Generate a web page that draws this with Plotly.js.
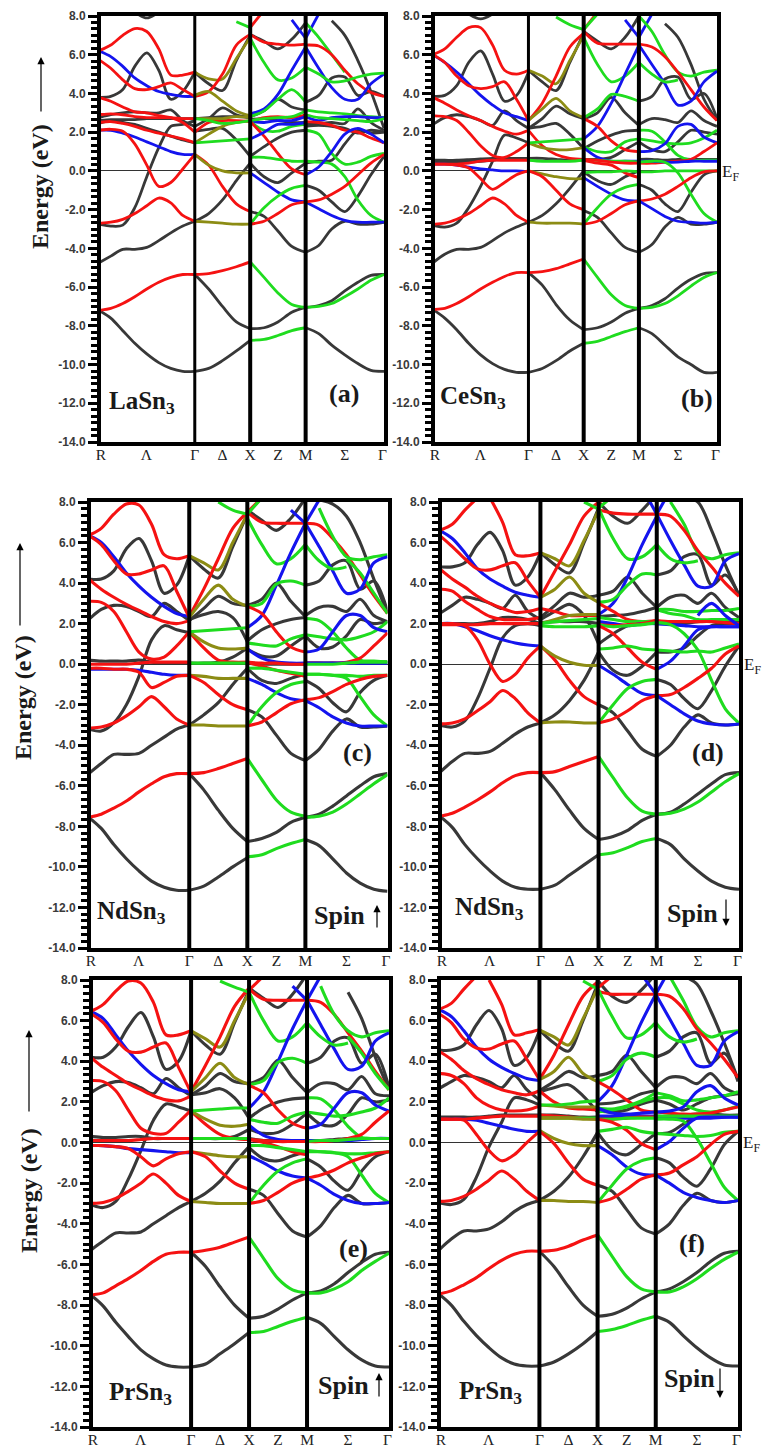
<!DOCTYPE html>
<html><head><meta charset="utf-8">
<script src="https://cdn.plot.ly/plotly-3.0.1.min.js"></script>
<style>html,body{margin:0;padding:0;background:#fff}</style></head>
<body><div id="chart" style="width:763px;height:1447px"></div>
<script>
const _=null;
const kStart=0.02;
const kNodes=[0,0.866,1.366,1.866,2.573];
const xTickVals=[0.02,0.43,0.866,1.116,1.366,1.616,1.866,2.22,2.56];
const xTickText=['R','Λ','Γ','Δ','X','Z','M','Σ','Γ'];
const yTickVals=[8,6,4,2,0,-2,-4,-6,-8,-10,-12,-14];
const yTickText=['8.0','6.0','4.0','2.0','0.0','-2.0','-4.0','-6.0','-8.0','-10.0','-12.0','-14.0'];

const aRG=[['k',_,_,_,8.2,7.9,8.2],['k',3.8,3.85,4.2,5.4,6.1,5.2,3.7,4.1,5.1],['k',2.75,2.9,3,3.05,3,3,3.15,2.6,2.3],['k',2.6,2.65,2.65,2.65,2.7,2.7,2.7,2.7,2.7],['k',2.45,2.6,2.5,2.4,2.2,2,1.8,1.6,1.45],['k',-2.75,-2.85,-2.8,-1.9,-.3,1.2,2.3,2.4,2.6],['k',-4.75,-4.4,-4.05,-4.05,-3.95,-3.6,-3.2,-2.85,-2.6],['k',-7.2,-7.6,-8.25,-8.9,-9.45,-9.9,-10.2,-10.35,-10.35],['b',6.2,5.9,5.4,4.8,4.4,4.1,3.95,3.85,3.85],['b',2.1,2.1,1.95,1.75,1.5,1.25,1,.85,.85],['r',6.2,6.5,7,7.35,7.2,6.3,4.95,4.95,5.1],['r',5.75,5.3,4.7,4.25,4.2,4.35,4.55,4.2,3.85],['r',3.8,3.6,3.3,3.05,3,2.85,2.75,2.5,2],['r',2.9,2.95,2.9,2.8,2.75,2.75,2.75,2.7,2.7],['r',2.5,2.55,2.45,2.3,2.1,1.95,1.8,1.65,1.45],['r',2.1,2.15,2.05,1.4,.3,-.8,-.6,.1,.85],['r',-2.7,-2.65,-2.5,-2.2,-1.8,-1.4,-1.65,-2.3,-2.6],['r',-7.2,-7.1,-6.85,-6.5,-6.1,-5.75,-5.5,-5.35,-5.35]];
const aGX=[['k',5.1,4.5,4.15,5.7,7],['k',2.3,2.7,3.25,2.9,2.75],['k',2.05,2.15,2.2,1.6,.75],['k',-2.6,-2.2,-1.5,-.5,.4],['k',-5.35,-6.1,-7,-7.8,-8.15],['k',-10.35,-10.2,-9.8,-9.3,-8.75],['k',2.7,2.75,2.8,2.8,2.75],['o',5.1,4.75,4.75,5.8,6.9],['r',3.85,4.1,5,6.5,7.05],['o',3.9,4.1,3.6,3.1,2.85],['r',-5.35,-5.3,-5.15,-4.95,-4.7],['o',-2.6,-2.65,-2.7,-2.75,-2.75],['r',.85,.3,-.8,-1.7,-2.1],['o',.85,.3,0,-.1,-.1],['o',1.45,1.9,2.3,2.5,2.6],['g',1.45,1.5,1.55,1.6,1.65],['r',2,2.5,2.6,2.6,2.55],['o',2.7,2.7,2.7,2.8,2.75],['g',2.7,2.6,2.45,2.5,2.6],['g',_,_,_,7.7,7.4]];
const aXM=[['k',7.05,6.7,6.3,6.8,7.65],['k',2.8,3.1,3.7,3.3,3.15],['k',2.65,2.7,2.6,2.5,2.5],['k',.75,1.25,1.7,2,2.1],['k',.4,-.3,-.6,-.1,.4],['k',-2.1,-2.35,-3.1,-3.9,-4.2],['k',-8.15,-8.1,-7.8,-7.3,-7.05],['r',7.05,6.65,6.55,6.5,6.55],['r',7.4,8.3],['g',6.85,5.6,4.7,4.8,5.35],['b',2.95,3.2,3.95,5.2,6.4],['b',_,_,_,7.8,6.85],['g',2.8,3.1,3.7,4.2,3.55],['r',2.55,2.75,2.8,2.75,2.9],['b',2.55,2.5,2.6,2.6,2.8],['g',2.6,2.7,2.75,2.8,3.1],['g',2.55,2.1,2.05,2.3,2.4],['r',2.55,1.8,.9,.1,-.2],['b',1.65,2,2.4,2.4,2.5],['g',.7,.7,.6,.5,.5],['b',-.1,-.6,-1.1,-1.5,-1.6],['g',-2.75,-1.9,-1.3,-.9,-.75],['r',-2.75,-2.6,-2.2,-1.75,-1.6],['g',-4.7,-5.5,-6.3,-6.9,-7.05],['g',-8.75,-8.7,-8.5,-8.25,-8.1]];
const aMG=[['k',_,_,7.75,7,5.7,4.1,2.2],['k',3.55,3.9,4.8,4.85,3.9,4.1,3.85],['k',2.4,2.45,2.5,2.45,3.2,2.5,2.1],['k',2.3,2.35,2.3,2.2,1.95,2.1,2],['k',.4,.5,.55,1.4,2.1,1.95,2],['k',-.75,-1,-1.6,-2.1,-1.3,-.2,.75],['k',-4.2,-3.85,-3,-2.6,-2.75,-2.75,-2.65],['k',-7.05,-6.95,-6.7,-6.2,-5.75,-5.4,-5.35],['k',-8.1,-8.4,-9,-9.5,-9.95,-10.3,-10.35],['b',6.85,8.1],['g',7.65,6.9,6,5.1],['r',6.5,6.45,6,5.2,4.5,4.05,3.85],['b',6.4,5.3,4.3,3.7,3.7,4.5,5],['g',5.35,5,4.6,4.65,4.85,5,5.05],['g',3.15,3.05,3,2.95,2.85,2.8,2.75],['b',2.8,2.6,2.75,2.8,2.8,2.75,2.75],['g',2.9,2.75,2.7,2.65,2.6,2.55,2.7],['r',2.55,2.5,2.35,2.1,2,1.7,1.45],['g',2.1,1.9,.9,.35,.45,.75,.9],['g',.5,.45,.35,-.3,-1.5,-2.3,-2.65],['b',-.2,.2,1,1.9,2.2,1.9,1.45],['b',-1.6,-1.95,-2.3,-2.55,-2.65,-2.65,-2.65],['r',-1.6,-1.5,-1.2,-.8,-.2,.4,.85],['g',-7.05,-7,-6.85,-6.5,-6.1,-5.65,-5.35]];

const bRG=[['k',_,_,_,8.1,7.85,8.1],['k',3.85,3.9,4.4,5.6,6.2,5,3.6,3.9,5.1],['k',2.4,2.75,2.9,2.8,2.6,2.35,3.1,2.6,2.2],['k',.55,.55,.55,.58,.62,.65,.65,.65,.65],['k',.45,.45,.45,.47,.5,.55,.6,.6,.6],['k',-2.8,-2.9,-2.7,-1.9,-.8,.5,1.85,1.7,1.45],['k',-4.75,-4.3,-4.05,-4.05,-3.95,-3.6,-3.2,-2.9,-2.65],['k',-7.15,-7.6,-8.2,-8.9,-9.5,-9.95,-10.25,-10.4,-10.4],['b',6,5.6,5.1,4.5,3.9,3.4,3,2.8,2.6],['b',.35,.35,.3,.2,.1,.05,0,0,-.05],['r',6,6.3,6.9,7.4,7.4,6.5,5.2,5,5.2],['r',6,5.6,4.9,4.4,4.25,4.35,4.6,3.7,2.6],['r',3.8,3.5,3.15,2.85,2.6,2.3,2.05,1.9,2.1],['r',2.85,2.8,2.6,2,1.3,.8,.7,1,1.45],['r',.35,.35,.35,.4,.5,.55,.55,.55,.55],['r',.35,.35,.3,.15,-.4,-.95,-.6,-.2,0],['r',-2.75,-2.7,-2.5,-2.2,-1.8,-1.4,-1.7,-2.3,-2.65],['r',-7.15,-7.1,-6.85,-6.5,-6.1,-5.75,-5.45,-5.25,-5.25]];
const bGX=[['k',5.2,4.6,4.15,5.6,7.1],['k',2.2,2.7,3.35,2.95,2.7],['k',2.2,2.3,2.45,1.9,1.15],['k',.65,.65,.6,.55,.6],['k',-2.65,-2.3,-1.7,-.9,0],['k',-5.25,-5.9,-6.9,-7.7,-8.2],['k',-10.4,-10.2,-9.8,-9.3,-8.9],['o',5.2,4.9,4.5,5.7,7],['r',2.6,3.5,4.9,6.4,7.1],['o',2.6,3.2,3.75,3.1,2.75],['r',2.1,1.3,.85,.65,.6],['o',1.45,1.2,1.1,1.1,1.2],['g',1.45,1.5,1.55,1.6,1.65],['g',.55,.5,.5,.5,.55],['o',0,-.15,-.3,-.4,-.4],['r',0,-.3,-1,-1.7,-2],['o',-2.65,-2.7,-2.7,-2.7,-2.75],['r',-5.25,-5.2,-5.05,-4.8,-4.55],['g',_,_,7.95,7.55,7.3]];
const bXM=[['k',7.2,6.7,6.3,6.9,8],['k',2.7,3,3.8,3,2.35],['k',1.15,1.55,1.85,2.05,2.1],['k',.6,.6,.7,1.1,1.5],['k',-.05,-.5,-.7,-.3,0],['k',-2.05,-2.4,-3.2,-3.95,-4.2],['k',-8.2,-8.1,-7.8,-7.35,-7.1],['r',7.2,6.6,6.55,6.55,6.55],['r',7.3,8.2],['g',7.3,8.1],['g',6.9,5.5,4.6,4.9,5.6],['b',1.65,2.3,3.5,5,6.5],['b',_,_,_,7.8,6.9],['g',2.75,3.2,3.95,3.85,3.6],['r',2.7,2.3,1.55,1.1,1],['g',1.25,1,1,1.5,1.65],['b',1.2,.7,.5,.5,.5],['g',.55,.55,.5,.5,.45],['r',.6,.55,.45,.4,.4],['r',.55,.4,.3,-.1,-.35],['g',-.1,-.05,-.05,0,-.05],['b',-.35,-.8,-1.2,-1.5,-1.55],['g',-2.75,-1.9,-1.2,-.85,-.7],['r',-2.75,-2.6,-2.2,-1.75,-1.55],['g',-4.55,-5.5,-6.4,-6.95,-7.1],['g',-8.9,-8.8,-8.55,-8.3,-8.1]];
const bMG=[['k',_,_,7.6,6.9,5.5,3.7,2.6],['k',3.6,3.85,4.75,4.85,3.7,4,2.7],['k',2.4,2.7,2.65,2.5,3.1,2.6,2.3],['k',1.5,1.1,1,1.5,2.1,2,1.9],['k',.6,.6,.55,.6,.6,.6,.6],['k',-.7,-1,-1.7,-2.1,-1.1,-.2,0],['k',-4.2,-3.8,-2.9,-2.4,-2.75,-2.75,-2.65],['k',-7.1,-6.95,-6.6,-6.05,-5.6,-5.3,-5.25],['k',-8.1,-8.4,-9,-9.6,-10,-10.4,-10.4],['b',6.9,8.1],['g',8,7.2,6,5.1,4.9,5.1,5.2],['r',6.55,6.4,5.9,5.1,4.2,3.3,2.6],['b',6.5,5.5,4.5,3.4,3.6,4.6,5.15],['g',5.6,5,4.6,4.7],['g',2.1,2.05,1.5,.8,.55,.55,.55],['g',1.65,1.55,1.45,1.4,1.45,1.7,2.1],['b',1,1.05,1.4,2.3,2.4,1.75,1.45],['r',.4,.4,.45,.5,.6,1,1.45],['b',.5,.5,.45,.45,.5,.5,.5],['g',-.05,-.05,0,0,0,0,0],['g',.45,.5,.45,-.1,-1.2,-2.2,-2.65],['r',-1.55,-1.45,-1.2,-.8,-.35,-.05,0],['b',-1.55,-1.95,-2.35,-2.6,-2.65,-2.7,-2.65],['g',-7.1,-7.05,-6.85,-6.45,-5.95,-5.5,-5.25]];

const cRG=[['k',4.2,4.2,4.6,5.7,6.2,5.1,3.5,3.9,5.35],['k',2.2,2.7,2.9,2.85,2.6,2.35,3,2.6,2.15],['k',-3.2,-3.3,-2.9,-2,-.6,1.2,1.9,1.7,1.55],['k',.2,.15,.15,.15,.2,.1,.05,.05,.05],['k',-5.4,-4.9,-4.45,-4.45,-4.4,-4,-3.6,-3.2,-3],['k',-7.55,-8.1,-8.9,-9.6,-10.2,-10.7,-11,-11.15,-11.15],['b',6.35,6,5.3,4.5,3.85,3.3,2.85,2.5,2.35],['b',-.25,-.25,-.25,-.25,-.3,-.4,-.5,-.55,-.55],['r',6.35,6.7,7.4,7.9,7.85,6.9,5.4,5.2,5.35],['r',6.35,5.9,5.1,4.45,4.45,4.65,4.85,3.6,2.3],['r',4.2,3.7,3.3,2.95,2.65,2.35,2.1,2,2.15],['r',3.1,3.05,2.6,1.6,.6,.25,.35,.9,1.6],['r',0,0,0,0,.05,.1,.1,.1,.1],['r',-.2,-.2,-.25,-.25,-.4,-1.15,-.9,-.6,-.55],['r',-3.15,-3.1,-2.9,-2.55,-2.1,-1.6,-2.1,-2.7,-3],['r',-7.55,-7.4,-7.1,-6.75,-6.3,-5.9,-5.55,-5.4,-5.4]];
const cGX=[['k',5.35,4.7,4.25,5.8,7.4],['k',2.15,2.75,3.35,3,2.9],['k',2.2,2.45,2.6,2.3,1.1],['k',.05,.05,.1,.35,.8],['k',-3,-2.5,-1.9,-1,-.2],['k',-5.4,-6.2,-7.2,-8.1,-8.75],['k',-11.15,-10.95,-10.5,-10,-9.55],['o',5.35,5,4.65,6,7.4],['r',2.35,3.7,5.2,6.7,7.5],['o',2.3,3.2,3.9,3.2,2.85],['r',1.6,.8,.2,.1,.1],['o',1.6,1.1,.8,.75,.8],['g',1.6,1.65,1.7,1.75,1.8],['g',.05,.05,.05,.05,.05],['o',-.55,-.6,-.7,-.7,-.7],['r',-.55,-.9,-1.5,-2,-2.25],['o',-3,-3,-3.05,-3.05,-3.05],['r',-5.4,-5.35,-5.15,-4.9,-4.65],['g',_,_,8,7.6,7.4]];
const cXM=[['k',7.6,7.1,6.6,7.2,8.2],['k',2.9,3.2,4,3.1,2.35],['k',1.15,1.7,2,2.2,2.3],['k',.75,.4,.4,.9,1.4],['k',.05,0,0,0,0],['k',-.2,-.8,-.95,-.7,-.5],['k',-2.25,-2.6,-3.5,-4.4,-4.75],['k',-8.75,-8.6,-8.3,-7.8,-7.55],['r',7.5,7,6.95,6.95,6.95],['r',7.5,8.2],['g',7.4,8.2],['g',7.2,5.9,4.95,5.2,5.9],['b',1.8,2.4,3.9,5.5,6.95],['b',_,_,_,7.6,6.95],['g',2.85,3,3.95,4.1,3.9],['r',2.85,2.5,1.6,.85,.6],['g',1.05,.95,.9,1.25,1.45],['b',.75,.3,.1,.05,.05],['r',.1,-.1,-.3,-.45,-.6],['r',.1,.05,.05,0,0],['g',-.2,-.2,-.3,-.4,-.5],['b',-.7,-1,-1.4,-1.7,-1.8],['g',-3.05,-2.1,-1.4,-1,-.85],['r',-3.05,-2.85,-2.4,-1.95,-1.75],['g',-4.65,-5.7,-6.7,-7.3,-7.5],['g',-9.5,-9.4,-9.1,-8.85,-8.65]];
const cMG=[['k',8.1,8.1,7.9,7.3,6,4.2,2.5],['k',3.9,4.1,4.9,5.1,3.7,4.1,2.6],['k',2.4,2.8,2.85,2.6,3.2,2.4,2.1],['k',1.4,.8,.85,1.4,2.2,2,2.1],['k',.05,.05,.05,.05,.1,.1,.1],['k',-.8,-1.2,-1.9,-2.35,-1.4,-.8,-.55],['k',-4.75,-4.2,-3.3,-2.7,-3.1,-3.1,-3.05],['k',-7.55,-7.4,-7,-6.5,-6,-5.55,-5.4],['k',-8.65,-8.95,-9.6,-10.3,-10.8,-11.1,-11.2],['b',6.95,8.1],['r',6.95,6.85,6.2,5.4,4.4,3.4,2.5],['g',_,7.7,6.3,5.3,5.15,5.3,5.4],['g',_,_,_,5.2,4.5,3.5,2.5],['b',6.95,5.8,4.6,3.5,3.7,5,5.3],['g',5.9,5.1,4.7,4.8],['g',2.25,2.15,1.6,.8,.2,.15,.1],['g',1.45,1.35,1.25,1.2,1.35,1.6,2.1],['b',.6,.75,1.6,2.4,2.4,1.8,1.6],['r',.05,.05,.05,.1,.3,.9,1.55],['b',.05,.05,.05,.05,.05,.05,.05],['g',0,0,0,.05,.1,.1,.1],['g',-.5,-.5,-.55,-.7,-1.6,-2.5,-3.05],['g',-.5,-.5,-.55,-.55,-.6,-.55,-.55],['r',-1.75,-1.65,-1.35,-1,-.75,-.6,-.55],['b',-1.8,-2.15,-2.6,-2.9,-3.05,-3.05,-3.05],['g',-7.55,-7.5,-7.3,-6.9,-6.4,-5.9,-5.45]];

const dRG=[['k',4.8,4.8,5,5.9,6.5,5.6,3.9,4.3,5.5],['k',2.5,2.9,3.3,3.2,3,2.75,3.4,2.6,2.2],['k',2,2,2,2,2.1,2.3,2.3,2.2,2],['k',-3,-3.1,-2.8,-1.7,-.2,1.3,1.9,2,1.9],['k',-5.35,-4.8,-4.4,-4.4,-4.3,-3.9,-3.45,-3.1,-2.9],['k',-7.5,-8.05,-8.9,-9.6,-10.2,-10.7,-11,-11.1,-11.1],['b',6.6,6.2,5.5,4.7,4.2,3.85,3.55,3.4,3.3],['b',2,2,1.85,1.65,1.4,1.2,1.05,.95,.9],['r',6.6,6.9,7.6,8.2],['r',_,_,_,_,8.2,7,5.4,5.35,5.5],['r',6.35,5.8,5.2,4.7,4.65,4.85,5,4.1,3.3],['r',4.7,4.2,3.8,3.35,3,2.75,2.55,2.6,2.75],['r',3.7,3.6,3.1,2.7,2.35,2.2,2.2,2.2,2.3],['r',1.95,1.95,1.95,1.95,2,2,2,2,2],['r',2,2,1.9,1.2,0,-.85,-.5,.3,.9],['r',-2.95,-2.9,-2.7,-2.3,-1.85,-1.3,-1.7,-2.4,-2.9],['r',-7.5,-7.35,-7.05,-6.7,-6.3,-5.85,-5.5,-5.35,-5.35]];
const dGX=[['k',5.5,4.9,4.5,6,7.7],['k',2.3,2.9,3.5,3.3,3.4],['k',2.2,2.6,2.95,2.4,1],['k',2.05,2.1,2.1,2.1,2],['k',-2.9,-2.5,-1.8,-.8,.6],['k',-5.35,-6.2,-7.2,-8.1,-8.65],['k',-11.1,-10.9,-10.4,-9.9,-9.4],['o',5.5,5.2,4.85,6.1,7.6],['r',3.3,4.6,5.9,7.3,8],['o',3.3,3.7,4.3,3.5,3.05],['r',2.75,2.6,2.4,2.4,2.4],['o',2,2.2,2.4,2.45,2.45],['g',2,2.1,2.15,2.2,2.25],['g',1.9,1.85,1.85,1.85,1.9],['r',.9,.2,-.8,-1.6,-2],['o',.9,.4,.1,-.05,-.05],['o',-2.9,-2.85,-2.85,-2.9,-2.9],['r',-5.35,-5.3,-5.05,-4.8,-4.55],['g',_,_,_,8,7.65]];
const dXM=[['k',8,7.3,6.95,7.6,8.4],['k',3.4,3.6,4.3,3.5,2.8],['k',2.35,2.4,2.45,2.6,2.8],['k',1,1.5,1.9,2.1,2],['k',.6,-.3,-.55,-.1,.6],['k',-2,-2.4,-3.3,-4.2,-4.55],['k',-8.65,-8.5,-8.2,-7.7,-7.4],['r',7.6,7.45,7.4,7.4,7.4],['r',8,8.3],['g',7.7,8.3],['g',7.7,6.2,5.2,5.3,5.9],['b',2.45,3,4.3,5.9,7.3],['b',_,_,_,8.7,7.4],['g',3.05,3.2,3.9,4.45,4.4],['r',3,2.6,2.2,2.1,2.15],['g',2.3,2.2,2.1,2.1,2.1],['b',2.1,2,1.9,2,2],['r',1.95,1.9,1.95,2,2.15],['g',1.95,1.85,1.9,1.95,2.05],['r',1.9,1.5,.8,.1,-.25],['g',.75,.8,.9,.75,.7],['b',-.05,-.5,-1,-1.45,-1.55],['g',-2.9,-2,-1.2,-.85,-.75],['r',-2.9,-2.7,-2.3,-1.8,-1.55],['g',-4.55,-5.6,-6.6,-7.25,-7.4],['g',-9.4,-9.3,-9.05,-8.75,-8.6]];
const dMG=[['k',_,_,8.2,8,6.6,4.9,3.4],['k',4.4,4.6,5.3,5.4,3.9,4.4,3.4],['k',2.8,3.3,3.4,3,3.5,2.8,2.3],['k',2,2,2,2.1,2.15,2.1,2.1],['k',.6,.6,.8,1.4,1.9,2,2],['k',-.75,-1,-1.7,-2.2,-1.3,-.1,.9],['k',-4.55,-4,-3.1,-2.5,-2.9,-3,-2.95],['k',-7.4,-7.3,-6.9,-6.4,-5.9,-5.45,-5.35],['k',-8.6,-8.9,-9.6,-10.2,-10.7,-11,-11.1],['b',7.4,8.6],['g',_,8,6.9,5.5,5.2,5.4,5.5],['r',7.4,7.3,6.6,5.6,4.8,4,3.35],['b',7.4,6.1,4.9,3.85,3.85,5.1,5.45],['g',5.9,5.2,5,5.1],['g',2.7,2.7,2.6,2.6,2.65,2.65,2.75],['g',2.7,2.5,2.4,2.2,2.2,2.2,2.2],['r',2.15,2.1,2.1,2.1,2.1,2.05,2],['b',2,1.95,1.9,1.85,1.85,1.85,1.85],['g',2.05,1.95,1.5,.7,-.8,-2.2,-2.9],['b',-.25,.15,.9,1.7,1.85,1.85,1.85],['b',_,_,_,2.4,3,2.4,1.9],['g',.7,.65,.6,.65,.6,.8,1],['r',-1.55,-1.5,-1.15,-.7,-.2,.5,.9],['b',-1.55,-2,-2.45,-2.8,-2.95,-3,-2.95],['g',-7.4,-7.35,-7.15,-6.8,-6.3,-5.8,-5.4]];

const eRG=[['k',4.2,4.2,4.7,5.7,6.4,5.2,3.6,4,5.5],['k',2.45,2.8,3,2.95,2.7,2.4,3.15,2.7,2.3],['k',-3.05,-3.2,-2.9,-1.8,-.4,1.1,1.9,1.75,1.55],['k',.3,.25,.25,.3,.3,.2,.2,.2,.2],['k',-5.3,-4.85,-4.45,-4.45,-4.4,-4,-3.6,-3.2,-2.9],['k',-7.5,-8.05,-8.85,-9.55,-10.2,-10.65,-10.95,-11.05,-11.05],['b',6.45,6.1,5.3,4.5,3.85,3.3,2.9,2.6,2.5],['b',-.15,-.15,-.2,-.3,-.35,-.4,-.45,-.5,-.5],['r',6.45,6.8,7.45,7.95,7.85,6.9,5.3,5.3,5.5],['r',6.35,5.9,5.1,4.5,4.45,4.7,4.9,3.7,2.45],['r',4.2,3.7,3.3,2.9,2.6,2.3,2.1,2.05,2.3],['r',3.05,3,2.55,1.6,.7,.45,.45,1,1.6],['r',.1,.1,.1,.1,.15,.2,.2,.2,.2],['r',-.15,-.15,-.2,-.3,-.7,-1.15,-.8,-.55,-.45],['r',-3,-2.95,-2.75,-2.4,-2,-1.55,-2,-2.6,-2.9],['r',-7.5,-7.4,-7.05,-6.7,-6.3,-5.85,-5.5,-5.4,-5.4]];
const eGX=[['k',5.5,4.8,4.35,5.9,7.5],['k',2.35,2.8,3.4,3,2.9],['k',2.35,2.45,2.65,2.2,1.2],['k',.2,.2,.2,.3,.65],['k',-2.9,-2.5,-1.9,-1,-.2],['k',-5.4,-6.1,-7.1,-8,-8.65],['k',-11.05,-10.9,-10.4,-9.9,-9.35],['o',5.5,5.1,4.7,6,7.4],['r',2.5,3.8,5.2,6.7,7.6],['o',2.5,3.2,3.9,3.2,2.85],['r',1.55,.9,.4,.2,.15],['o',1.55,1.15,.85,.8,.9],['g',1.55,1.6,1.65,1.7,1.7],['g',.2,.2,.2,.2,.2],['o',-.45,-.55,-.65,-.7,-.7],['r',-.45,-.7,-1.4,-2,-2.3],['o',-2.9,-2.95,-3,-3,-3],['r',-5.4,-5.3,-5.15,-4.9,-4.65],['g',_,_,7.95,7.65,7.4]];
const eXM=[['k',7.6,7.1,6.65,7.3,8.3],['k',2.9,3.2,4.05,3.2,2.45],['k',1.2,1.7,2,2.15,2.2],['k',.65,.45,.5,.9,1.45],['k',.2,.1,.1,.1,.1],['k',-.25,-.8,-.9,-.65,-.45],['k',-2.3,-2.6,-3.5,-4.35,-4.65],['k',-8.65,-8.55,-8.2,-7.75,-7.4],['r',7.55,7.05,7,7,7],['r',7.5,8.2],['g',7.4,6,5,5.2,5.9],['b',1.7,2.5,4,5.6,7],['b',_,_,_,7.7,7],['g',2.85,3.05,3.95,4.15,3.9],['r',2.8,2.45,1.6,.95,.7],['g',1.15,1,.95,1.3,1.5],['b',.85,.35,.15,.1,.1],['r',.15,0,-.2,-.45,-.6],['r',.15,.1,.05,.05,.05],['g',-.15,-.15,-.25,-.35,-.45],['b',-.65,-1,-1.4,-1.65,-1.75],['g',-3,-2.1,-1.4,-1,-.8],['r',-3,-2.85,-2.45,-2,-1.75],['g',-4.65,-5.7,-6.7,-7.25,-7.4],['g',-9.35,-9.3,-9.05,-8.8,-8.6]];
const eMG=[['k',_,_,_,7.4,6.1,4.2,2.6],['k',3.9,4.2,5,5.15,3.9,4.35,2.7],['k',2.45,2.9,2.9,2.6,3.25,2.4,2.3],['k',1.45,.9,.85,1.4,2.2,2,2.1],['k',.1,.1,.15,.2,.2,.2,.2],['k',-.8,-1.2,-1.9,-2.35,-1.4,-.7,-.45],['k',-4.65,-4.1,-3.2,-2.6,-3,-3,-2.95],['k',-7.4,-7.3,-6.95,-6.4,-5.9,-5.5,-5.4],['k',-8.6,-8.9,-9.55,-10.2,-10.7,-11,-11.05],['b',7,8.2],['r',7,6.9,6.3,5.4,4.5,3.5,2.6],['g',_,7.7,6.3,5.5,5.2,5.4,5.5],['g',_,_,_,5.2,4.4,3.4,2.6],['b',7,5.8,4.6,3.6,3.75,5,5.4],['g',5.9,5.2,4.8,4.9],['g',2.2,2.15,1.6,.8,.25,.2,.2],['g',1.5,1.4,1.3,1.35,1.5,1.7,2.2],['b',.7,.9,1.7,2.45,2.45,1.85,1.55],['r',.05,.05,.1,.2,.4,1,1.55],['b',.1,.1,.1,.1,.15,.2,.2],['g',.05,.1,.1,.15,.2,.2,.2],['g',-.4,-.45,-.5,-.7,-1.6,-2.5,-2.95],['g',-.45,-.45,-.5,-.55,-.55,-.5,-.45],['r',-1.75,-1.6,-1.35,-1,-.75,-.55,-.45],['b',-1.75,-2.1,-2.55,-2.85,-3,-3,-2.95],['g',-7.4,-7.4,-7.2,-6.85,-6.3,-5.85,-5.45]];

const fRG=[['k',4.55,4.55,4.8,5.8,6.5,5.6,3.8,4.2,5.5],['k',2.65,3,3.3,3.2,3,2.7,3.3,2.6,2.1],['k',1.25,1.25,1.25,1.25,1.3,1.35,1.35,1.35,1.35],['k',-2.95,-3.05,-2.8,-1.7,-.2,1,2.2,2.1,1.85],['k',-5.3,-4.75,-4.35,-4.35,-4.25,-3.9,-3.4,-3.05,-2.85],['k',-7.45,-8,-8.8,-9.5,-10.1,-10.6,-10.9,-11,-11],['b',6.55,6.2,5.5,4.7,4.1,3.7,3.4,3.15,3.05],['b',1.15,1.15,1.15,1.1,.95,.8,.65,.55,.55],['r',6.55,6.85,7.55,8.2],['r',_,_,_,_,8,6.8,5.3,5.4,5.55],['r',6.35,5.9,5.1,4.65,4.6,4.85,5,4.1,3.1],['r',4.5,4.1,3.55,3.15,2.85,2.6,2.45,2.35,2.55],['r',3.4,3.3,2.9,2.2,1.8,1.6,1.55,1.6,1.8],['r',1.15,1.15,1.15,1.2,1.25,1.3,1.3,1.3,1.3],['r',1.15,1.15,1.1,.4,-.4,-.9,-.6,0,.55],['r',-2.9,-2.85,-2.65,-2.3,-1.85,-1.4,-1.8,-2.4,-2.85],['r',-7.45,-7.3,-7,-6.65,-6.2,-5.8,-5.5,-5.35,-5.35]];
const fGX=[['k',5.55,4.9,4.5,6,7.8],['k',2.55,3,3.5,3.2,3.3],['k',2.5,2.7,2.85,2.3,1.5],['k',1.35,1.35,1.3,1.25,1.25],['k',-2.85,-2.4,-1.7,-.7,.5],['k',-5.35,-6.1,-7.1,-8,-8.55],['k',-11,-10.8,-10.4,-9.9,-9.3],['o',5.55,5.2,4.8,6.1,7.6],['r',3.1,4.3,5.8,7.2,7.9],['o',3.1,3.5,4.2,3.4,3],['r',2.55,2,1.7,1.65,1.6],['o',1.85,1.8,1.75,1.75,1.75],['g',1.85,1.85,1.9,2,2.05],['r',1.35,1.3,1.25,1.2,1.15],['g',1.2,1.2,1.2,1.2,1.2],['o',1.2,1.2,1.2,1.15,1.15],['o',.6,.2,-.05,-.15,-.15],['r',.55,-.05,-1,-1.8,-2.1],['o',-2.85,-2.85,-2.9,-2.9,-2.95],['r',-5.35,-5.3,-5.1,-4.8,-4.55],['g',_,_,_,7.95,7.55]];
const fXM=[['k',8,7.2,6.9,7.5,8.3],['k',3.3,3.5,4.3,3.5,2.7],['k',1.9,1.95,2.1,2.4,2.55],['k',1.55,1.5,1.6,1.9,2.1],['k',1.25,1.25,1.25,1.25,1.25],['k',.5,-.35,-.6,-.1,.45],['k',-2.1,-2.4,-3.3,-4.2,-4.5],['k',-8.55,-8.45,-8.15,-7.7,-7.35],['r',7.45,7.3,7.3,7.3,7.3],['r',7.6,8.2],['g',7.6,6.2,5.15,5.3,5.9],['b',2,2.8,4.3,5.9,7.3],['b',_,_,_,8.3,7.3],['g',3,3.3,4.1,4.4,4.2],['r',3,2.6,2.1,1.6,1.5],['g',1.7,1.65,1.8,2.05,2.45],['g',1.5,1.6,1.75,2,2.2],['b',1.7,1.45,1.4,1.45,1.5],['b',1.3,1.3,1.3,1.3,1.3],['r',1.15,1.15,1.2,1.25,1.25],['g',1.15,1.15,1.2,1.2,1.2],['r',1.15,1,.6,-.05,-.35],['g',.55,.65,.75,.55,.45],['b',-.15,-.6,-1.2,-1.55,-1.6],['g',-2.95,-2.1,-1.3,-.9,-.75],['r',-2.95,-2.75,-2.3,-1.8,-1.6],['g',-4.55,-5.6,-6.6,-7.2,-7.35],['g',-9.3,-9.2,-9,-8.75,-8.55]];
const fMG=[['k',_,_,8.2,7.8,6.5,4.9,3.1],['k',4.2,4.5,5.2,5.4,3.9,4.4,3],['k',2.7,3.2,3.2,2.9,3.4,2.7,2.4],['k',2.1,1.9,1.6,1.9,2.2,2.3,2.4],['k',1.25,1.3,1.35,1.4,1.4,1.35,1.35],['k',.45,.5,.9,1.3,1.4,1.3,1.3],['k',-.75,-1,-1.7,-2.15,-1.3,-.1,.55],['k',-4.5,-4,-3.1,-2.5,-2.85,-2.95,-2.85],['k',-7.35,-7.2,-6.85,-6.4,-5.85,-5.45,-5.35],['k',-8.55,-8.85,-9.5,-10.1,-10.6,-10.95,-11],['b',7.3,8.5],['g',_,8.2,7,5.7,5.2,5.4,5.5],['r',7.3,7.2,6.6,5.6,4.9,4.1,3.2],['b',7.3,6.1,4.9,3.8,3.8,5,5.45],['g',5.9,5.2,4.95,5.1],['g',2.45,2.3,2.05,2.1,2.2,2.3,2.5],['g',2.2,2.2,1.9,1.6,1.5,1.6,1.8],['r',1.5,1.45,1.4,1.4,1.45,1.6,1.75],['b',1.5,1.55,1.75,2.5,2.8,2.2,1.85],['b',1.3,1.25,1.2,1.2,1.2,1.25,1.25],['g',1.3,1.3,1.3,1.3,1.3,1.3,1.3],['g',1.15,1.15,1.05,.2,-1,-2.2,-2.85],['b',-.35,.05,.7,1.2,1.25,1.25,1.25],['g',.45,.4,.35,.3,.35,.5,.55],['r',-1.6,-1.5,-1.1,-.7,-.1,.4,.55],['b',-1.6,-2,-2.45,-2.7,-2.85,-2.95,-2.85],['g',-7.35,-7.35,-7.1,-6.7,-6.2,-5.75,-5.4]];

const panelBands=[[aRG,aGX,aXM,aMG],[bRG,bGX,bXM,bMG],[cRG,cGX,cXM,cMG],[dRG,dGX,dXM,dMG],[eRG,eGX,eXM,eMG],[fRG,fGX,fXM,fMG]];
// plot-area rectangles in pixels: left, right, top, bottom
const boxes=[[101,384,16,442],[435,717,16,442],[91,387.5,502,948],[442,739,502,948],[93,389,980,1427],[441,738,980,1427]];
const W=763,H=1447;
const colors={k:'#383838',r:'#f51212',b:'#1414ee',g:'#1fdc1f',o:'#8c8c14'};
const segN=[9,5,5,7];
const px=x=>x/W, py=y=>1-y/H;

const traces=[];
const layout={width:W,height:H,margin:{l:0,r:0,t:0,b:0},paper_bgcolor:'#fff',plot_bgcolor:'#fff',showlegend:false,annotations:[]};
boxes.forEach((b,i)=>{
  const n=i?String(i+1):'';
  layout['xaxis'+n]={domain:[px(b[0]),px(b[1])],range:[kStart,2.573],anchor:'y'+n,tickmode:'array',tickvals:xTickVals,ticktext:xTickText,ticks:'',tickfont:{family:'Liberation Serif',size:15.5,color:'#222'},showgrid:false,zeroline:false,showline:true,mirror:true,linecolor:'#000',linewidth:4,ticklabelstandoff:-5};
  layout['yaxis'+n]={domain:[py(b[3]),py(b[2])],range:[-14,8],anchor:'x'+n,tickmode:'array',tickvals:yTickVals,ticktext:yTickText,ticks:'outside',ticklen:9,tickwidth:3,tickcolor:'#000',tickfont:{family:'Liberation Sans',size:12,color:'#3a3a3a',weight:600},showgrid:false,zeroline:true,zerolinecolor:'#333',zerolinewidth:1,showline:true,mirror:true,linecolor:'#000',linewidth:4,
    minor:{tickmode:'linear',tick0:0,dtick:1/3,ticks:'outside',ticklen:6,tickwidth:3,tickcolor:'#000'}};
  panelBands[i].forEach((seg,s)=>{
    seg.forEach(p=>{
      const c=p[0],ys=p.slice(1),xs=ys.map((_v,j)=>kNodes[s]+(kNodes[s+1]-kNodes[s])*j/(segN[s]-1));
      traces.push({type:'scatter',mode:'lines',x:xs,y:ys,xaxis:'x'+n,yaxis:'y'+n,hoverinfo:'skip',line:{color:colors[c],width:i<2?2.8:3.1,shape:'spline',smoothing:0.9}});
    });
  });
  [1,2,3].forEach(j=>traces.push({type:'scatter',mode:'lines',x:[kNodes[j],kNodes[j]],y:[-14,8],xaxis:'x'+n,yaxis:'y'+n,hoverinfo:'skip',line:{color:'#000',width:(j==1&&i<2)?3:4}}));
});
const serif='Liberation Serif';
function txt(t,x,y,size,anchor,angle,color){layout.annotations.push({text:t,xref:'paper',yref:'paper',x:px(x),y:py(y),xanchor:anchor||'center',yanchor:'middle',showarrow:false,textangle:angle||0,font:{family:serif,size:size,color:color||'#1a1a1a'}});}
function arrow(x,y0,y1){layout.annotations.push({text:'',xref:'paper',yref:'paper',x:px(x),y:py(y1),axref:'pixel',ayref:'pixel',ax:0,ay:y0-y1,showarrow:true,arrowhead:2,arrowsize:1.2,arrowwidth:1.2,arrowcolor:'#000'});}
const energy='<b>Energy (eV)</b>';
txt(energy,40,187,24,'center',-90);arrow(41,113,57);
txt(energy,23,698,24,'center',-90);arrow(20,627,543);
txt(energy,29,1191,24,'center',-90);arrow(29,1113,1030);
const compounds=[['<b>LaSn<sub>3</sub></b>',107,402],['<b>CeSn<sub>3</sub></b>',438,397],['<b>NdSn<sub>3</sub></b>',95,912],['<b>NdSn<sub>3</sub></b>',453,908],['<b>PrSn<sub>3</sub></b>',107,1393],['<b>PrSn<sub>3</sub></b>',457,1392]];
compounds.forEach(c=>txt(c[0],c[1],c[2],25,'left'));
const panelTags=[['<b>(a)</b>',344,393],['<b>(b)</b>',697,398],['<b>(c)</b>',357,752],['<b>(d)</b>',708,752],['<b>(e)</b>',353,1248],['<b>(f)</b>',692,1243]];
panelTags.forEach(c=>txt(c[0],c[1],c[2],26));
const spins=[[312,915],[665,913],[316,1385],[662,1378]];
spins.forEach(c=>txt('<b>Spin</b>',c[0],c[1],26,'left'));
arrow(377,929,905);arrow(726,898,926);arrow(379,1398,1373);arrow(720,1367,1398);
[[720,173],[742,666],[741,1144]].forEach(c=>txt('E<sub>F</sub>',c[0],c[1],17,'left'));
Plotly.newPlot('chart',traces,layout,{staticPlot:true,displayModeBar:false});
</script></body></html>
